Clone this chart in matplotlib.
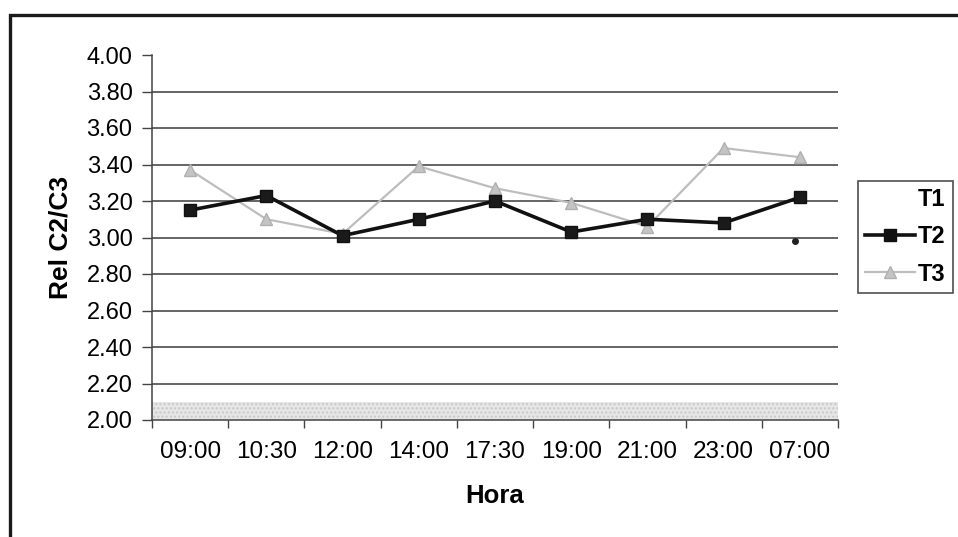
import numpy as np
import matplotlib
matplotlib.use('Agg')
import matplotlib.pyplot as plt
from matplotlib.lines import Line2D
from matplotlib.patches import Rectangle

plt.rcParams['font.family'] = ['Liberation Sans', 'DejaVu Sans']

# ---------------------------------------------------------------
# datos
# ---------------------------------------------------------------
horas = ['09:00', '10:30', '12:00', '14:00', '17:30', '19:00', '21:00', '23:00', '07:00']
t1 = [np.nan, np.nan, np.nan, np.nan, np.nan, np.nan, np.nan, np.nan, 2.98]
t2 = [3.15, 3.23, 3.01, 3.10, 3.20, 3.03, 3.10, 3.08, 3.22]
t3 = [3.37, 3.10, 3.02, 3.39, 3.27, 3.19, 3.06, 3.49, 3.44]
banda = (2.00, 2.10)
y_ticks = np.arange(2.0, 4.01, 0.2)

fig = plt.figure(figsize=(9.58, 5.37), dpi=100)
fig.patch.set_facecolor('white')
ax = fig.add_axes([152 / 958, 1 - 420 / 537, 686 / 958, 365 / 537])

x = np.arange(len(horas))

# fondo punteado abajo
ax.axhspan(banda[0], banda[1], facecolor='#e6e6e6', edgecolor='#c8c8c8',
           hatch='....', linewidth=0, zorder=0)

# lineas de la cuadricula
for v in y_ticks[1:-1]:
    ax.axhline(v, color='#3a3a3a', linewidth=1.1, zorder=1)

ax.plot(x, t3, color='#bdbdbd', linewidth=1.6, marker='^', markersize=9,
        markerfacecolor='#c4c4c4', markeredgecolor='#b0b0b0', zorder=3)
ax.plot(x, t2, color='#111111', linewidth=2.6, marker='s', markersize=8,
        markerfacecolor='#1a1a1a', markeredgecolor='#111111', zorder=4)
ax.plot(x - 0.06, t1, linestyle='none', marker='o', markersize=4,
        color='#222222', zorder=5)

ax.set_xlim(-0.5, len(horas) - 0.5)
ax.set_ylim(2.0, 4.0)
ax.set_yticks(y_ticks)
ax.set_yticklabels([f'{v:.2f}' for v in y_ticks])
ax.set_xticks(x)
ax.set_xticklabels(horas)
ax.set_xticks(np.arange(-0.5, len(horas), 1.0), minor=True)

ax.tick_params(axis='y', direction='out', length=7, width=1, color='#444444',
               labelsize=17, pad=7)
ax.tick_params(axis='x', which='major', length=0, labelsize=17.5, pad=15)
ax.tick_params(axis='x', which='minor', direction='out', length=6, width=1,
               color='#444444')

for s in ['top', 'right']:
    ax.spines[s].set_visible(False)
for s in ['left', 'bottom']:
    ax.spines[s].set_color('#444444')
    ax.spines[s].set_linewidth(1.1)

ax.set_ylabel('Rel C2/C3', fontsize=19, fontweight='bold', labelpad=10)
ax.set_xlabel('Hora', fontsize=18.5, fontweight='bold', labelpad=15)

# leyenda
handles = [
    Line2D([], [], linestyle='none'),
    Line2D([], [], color='#111111', linewidth=2.6, marker='s', markersize=8),
    Line2D([], [], color='#bdbdbd', linewidth=1.6, marker='^', markersize=9,
           markerfacecolor='#c4c4c4', markeredgecolor='#b0b0b0'),
]
leg = fig.legend(handles, ['T1', 'T2', 'T3'], loc='center left',
                 bbox_to_anchor=(858 / 958, 1 - 237 / 537),
                 frameon=True, fancybox=False, handlelength=2.1,
                 handletextpad=0.15, labelspacing=0.6, borderpad=0.3,
                 borderaxespad=0.0,
                 prop={'size': 17, 'weight': 'bold'})
leg.get_frame().set_edgecolor('#222222')
leg.get_frame().set_linewidth(1.2)

# marco exterior
fig.add_artist(Rectangle((10 / 958, -0.02), 1.0, 1 - 15 / 537 + 0.02,
                         transform=fig.transFigure, fill=False,
                         edgecolor='#1a1a1a', linewidth=2.4))

fig.savefig('out.png', dpi=100)
